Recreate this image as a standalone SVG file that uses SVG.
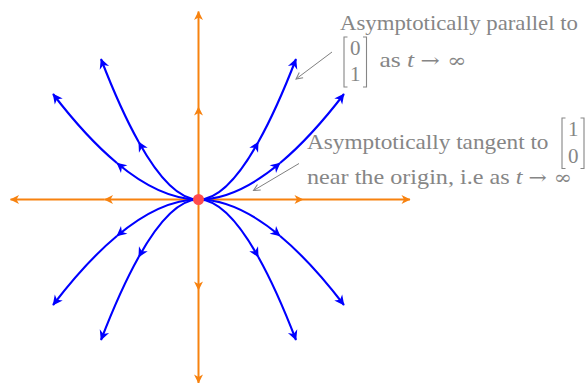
<svg xmlns="http://www.w3.org/2000/svg" width="586" height="383" viewBox="0 0 586 383">
<style>
.blue{fill:none;stroke:#0000ff;stroke-width:2.1;marker-end:url(#ab)}
.orange{fill:none;stroke:#f7820f;stroke-width:2;marker-end:url(#ao)}
.ann{fill:none;stroke:#808080;stroke-width:1;marker-end:url(#ag)}
.br{fill:none;stroke:#868686;stroke-width:1.1}
text{font-family:"Liberation Serif","Times New Roman",serif;font-size:21px;fill:#868686}
.sym{font-family:"DejaVu Serif",serif;font-size:19px}
</style>
<defs>
<marker id="ab" markerUnits="userSpaceOnUse" viewBox="-11 -6 12 12" markerWidth="12" markerHeight="12" refX="0" refY="0" orient="auto">
<path d="M0.5,0 L-9.5,-5 L-6.5,0 L-9.5,5 Z" fill="#0000ff"/>
</marker>
<marker id="ao" markerUnits="userSpaceOnUse" viewBox="-11 -6 12 12" markerWidth="12" markerHeight="12" refX="0" refY="0" orient="auto">
<path d="M0.5,0 L-8.5,-4.5 L-6,0 L-8.5,4.5 Z" fill="#f7820f"/>
</marker>
<marker id="ag" markerUnits="userSpaceOnUse" viewBox="-9 -5 10 10" markerWidth="10" markerHeight="10" refX="0" refY="0" orient="auto">
<path d="M-6.5,-3.2 L0,0 L-6.5,3.2" fill="none" stroke="#808080" stroke-width="1"/>
</marker>
</defs>
<g id="connectors">
<g id="axes">
<path class="orange" d="M198.5,199.5 L303,199.5"/>
<path class="orange" d="M303,199.5 L410,199.5"/>
<path class="orange" d="M198.5,199.5 L104.5,199.5"/>
<path class="orange" d="M104.5,199.5 L10.5,199.5"/>
<path class="orange" d="M198.5,199.5 L198.5,107"/>
<path class="orange" d="M198.5,107 L198.5,11.5"/>
<path class="orange" d="M198.5,199.5 L198.5,290"/>
<path class="orange" d="M198.5,290 L198.5,383"/>
</g>
<g id="trajectories">
<path class="blue" d="M198.5,199.5 Q160.5,199.5 116.9,163"/>
<path class="blue" d="M116.9,163 Q86.3,137.5 53,94"/>
<path class="blue" d="M198.5,199.5 Q236.5,199.5 280.1,163"/>
<path class="blue" d="M280.1,163 Q310.7,137.5 344,94"/>
<path class="blue" d="M198.5,199.5 Q160.5,199.5 116.9,236"/>
<path class="blue" d="M116.9,236 Q86.3,261.5 53,305"/>
<path class="blue" d="M198.5,199.5 Q236.5,199.5 280.1,236"/>
<path class="blue" d="M280.1,236 Q310.7,261.5 344,305"/>
<path class="blue" d="M198.5,199.5 Q170.8,199.5 138.7,142"/>
<path class="blue" d="M138.7,142 Q120.5,109.6 101,59"/>
<path class="blue" d="M198.5,199.5 Q226.2,199.5 258.3,142"/>
<path class="blue" d="M258.3,142 Q276.5,109.6 296,59"/>
<path class="blue" d="M198.5,199.5 Q170.8,199.5 138.7,257"/>
<path class="blue" d="M138.7,257 Q120.5,289.4 101,340"/>
<path class="blue" d="M198.5,199.5 Q226.2,199.5 258.3,257"/>
<path class="blue" d="M258.3,257 Q276.5,289.4 296,340"/>
</g>
<g id="annotation-arrows">
<path class="ann" d="M332,52 L296,79"/>
<path class="ann" d="M299,163.5 L253.5,190.5"/>
</g>
</g>
<g id="origin">
<circle cx="198.5" cy="199.5" r="5.5" fill="#ff4d4d"/>
</g>
<g id="label-parallel">
<text x="340" y="30" textLength="238" lengthAdjust="spacingAndGlyphs">Asymptotically parallel to</text>
<path class="br" d="M347.5,37 L344,37 L344,87 L347.5,87"/>
<path class="br" d="M363,37 L366.5,37 L366.5,87 L363,87"/>
<text x="355.2" y="55" text-anchor="middle">0</text>
<text x="355.2" y="80.5" text-anchor="middle">1</text>
<text x="379.5" y="67" textLength="87" lengthAdjust="spacingAndGlyphs">as <tspan font-style="italic">t</tspan> <tspan class="sym">→ ∞</tspan></text>
</g>
<g id="label-tangent">
<text x="307" y="148.5" textLength="241.5" lengthAdjust="spacingAndGlyphs">Asymptotically tangent to</text>
<path class="br" d="M565.5,118 L562,118 L562,168.5 L565.5,168.5"/>
<path class="br" d="M580.5,118 L584,118 L584,168.5 L580.5,168.5"/>
<text x="573.2" y="136" text-anchor="middle">1</text>
<text x="573.2" y="162.5" text-anchor="middle">0</text>
<text x="307" y="183.5" textLength="265" lengthAdjust="spacingAndGlyphs">near the origin, i.e as <tspan font-style="italic">t</tspan> <tspan class="sym">→ ∞</tspan></text>
</g>
</svg>
